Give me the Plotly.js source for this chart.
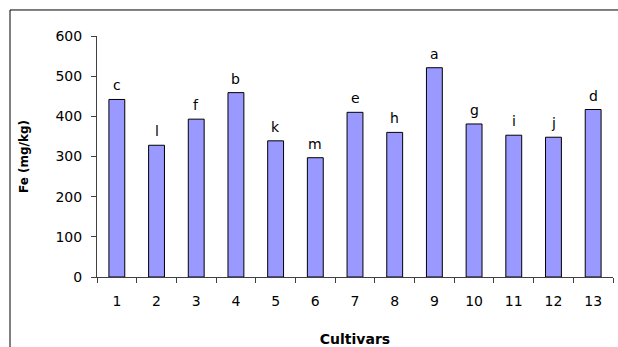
<!DOCTYPE html>
<html>
<head>
<meta charset="utf-8">
<script src="https://cdn.plot.ly/plotly-3.0.1.min.js"></script>
<style>html,body{margin:0;padding:0;background:#fff;}#chart{width:618px;height:347px;}</style>
</head>
<body>
<div id="chart"></div>
<script>
var cultivars = ['1','2','3','4','5','6','7','8','9','10','11','12','13'];
var feValues = [442, 328, 393, 459, 339, 297, 410, 360, 521, 381, 353, 348, 417];
var letters = ['c','l','f','b','k','m','e','h','a','g','i','j','d'];

var xs = cultivars.map(function(c, i){ return i + 1; });
var FONT = 'DejaVu Sans, Liberation Sans, Arial, sans-serif';

var trace = {
  type: 'bar',
  x: xs,
  y: feValues,
  width: 0.4,
  marker: {color: '#9999FF', line: {color: '#000000', width: 1}},
  hoverinfo: 'skip'
};

var annotations = xs.map(function(x, i){
  return {
    x: x, y: feValues[i], xref: 'x', yref: 'y',
    text: letters[i], showarrow: false,
    yanchor: 'bottom', yshift: 4,
    font: {family: FONT, size: 14, color: '#000'}
  };
});

var layout = {
  width: 618, height: 347,
  margin: {l: 97, r: 5, t: 36, b: 70},
  paper_bgcolor: '#ffffff',
  plot_bgcolor: '#ffffff',
  showlegend: false,
  font: {family: FONT, size: 14, color: '#000'},
  xaxis: {
    range: [0.5, 13.5],
    tickmode: 'array',
    tickvals: xs,
    ticktext: cultivars,
    tickfont: {family: FONT, size: 14, color: '#000'},
    showgrid: false,
    zeroline: false,
    showline: true,
    linecolor: '#404040',
    linewidth: 1,
    ticks: '',
    ticklabelstandoff: 11,
    title: {text: '<b>Cultivars</b>', font: {family: FONT, size: 14}, standoff: 29}
  },
  yaxis: {
    range: [0, 600],
    tickvals: [0, 100, 200, 300, 400, 500, 600],
    tickfont: {family: FONT, size: 14, color: '#000'},
    showgrid: false,
    zeroline: false,
    showline: true,
    linecolor: '#404040',
    linewidth: 1,
    ticks: 'outside',
    ticklen: 5,
    tickcolor: '#404040',
    ticklabelstandoff: 6,
    title: {text: '<b>Fe (mg/kg)</b>', font: {family: FONT, size: 12}, standoff: 24}
  },
  annotations: annotations,
  shapes: [
    {type: 'rect', xref: 'paper', yref: 'paper', x0: -0.1686, x1: 1.1, y0: -0.5, y1: 1.108,
     line: {color: '#000', width: 1}, fillcolor: 'rgba(0,0,0,0)', layer: 'above'}
  ]
};

// category-boundary tick marks on x axis (Excel-style, between categories)
var bnds = [];
for (var k = 0; k <= cultivars.length; k++) bnds.push(k + 0.5);
layout.xaxis2 = {
  overlaying: 'x', anchor: 'y', range: [0.5, 13.5], tickvals: bnds, ticktext: bnds.map(function(){return '';}),
  ticks: 'outside', ticklen: 5, tickcolor: '#404040', showgrid: false, zeroline: false, showline: false, side: 'bottom'
};
var dummy = {type: 'scatter', x: [0.5], y: [0], xaxis: 'x2', mode: 'markers', marker: {opacity: 0}, hoverinfo: 'skip'};

Plotly.newPlot('chart', [trace, dummy], layout, {staticPlot: true});
</script>
</body>
</html>
